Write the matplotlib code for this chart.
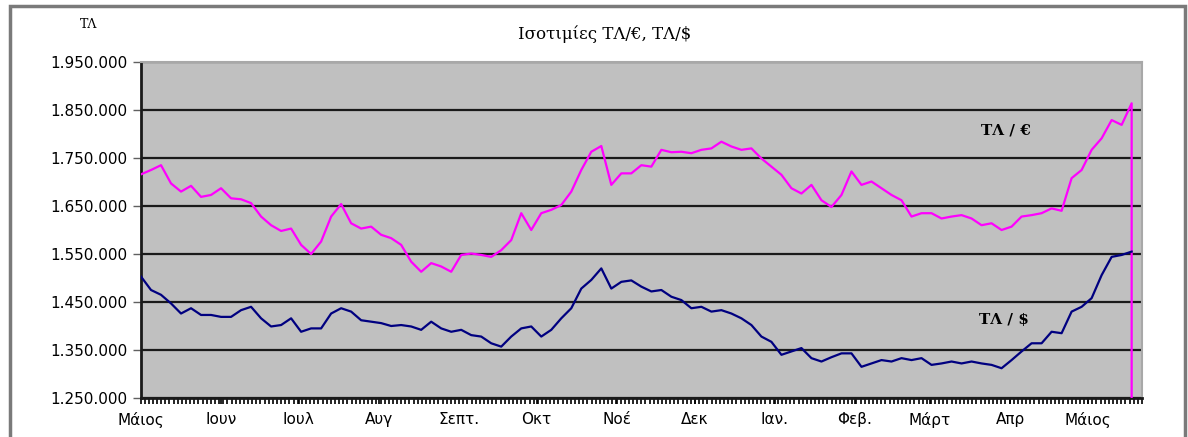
import numpy as np
import pandas as pd
import matplotlib
matplotlib.use('Agg')
import matplotlib.pyplot as plt
from matplotlib.ticker import FuncFormatter, MultipleLocator
from matplotlib.patches import Rectangle

# sampled dates (about every 4 days) from May 2003 to May 2004
dates = pd.date_range('2003-05-01', '2004-05-18', periods=100)

# TL per euro, thousands
eur = [1716, 1725, 1735, 1697, 1680, 1692, 1669, 1673, 1687, 1666,
       1664, 1656, 1628, 1610, 1598, 1603, 1569, 1550, 1576, 1628,
       1654, 1614, 1603, 1607, 1590, 1583, 1569, 1534, 1513, 1531,
       1524, 1513, 1548, 1551, 1548, 1544, 1558, 1579, 1635, 1600,
       1635, 1642, 1652, 1680, 1725, 1763, 1775, 1694, 1718, 1718,
       1735, 1732, 1767, 1762, 1763, 1760, 1767, 1770, 1784, 1774,
       1767, 1770, 1749, 1732, 1715, 1687, 1676, 1694, 1662, 1648,
       1673, 1722, 1694, 1701, 1687, 1673, 1662, 1628, 1635, 1635,
       1624, 1628, 1631, 1624, 1610, 1614, 1600, 1607, 1628, 1631,
       1635, 1645, 1640, 1708, 1725, 1767, 1791, 1829, 1819, 1864]

# TL per dollar, thousands
usd = [1503, 1475, 1465, 1447, 1426, 1437, 1423, 1423, 1419, 1419,
       1433, 1440, 1416, 1399, 1402, 1416, 1388, 1395, 1395, 1426,
       1437, 1430, 1412, 1409, 1406, 1400, 1402, 1399, 1392, 1409,
       1395, 1388, 1392, 1381, 1378, 1364, 1357, 1378, 1395, 1399,
       1378, 1392, 1416, 1437, 1478, 1496, 1520, 1478, 1492, 1495,
       1482, 1472, 1475, 1461, 1454, 1437, 1440, 1430, 1433, 1426,
       1416, 1402, 1378, 1367, 1340, 1347, 1354, 1333, 1326, 1335,
       1343, 1343, 1315, 1322, 1329, 1326, 1333, 1329, 1333, 1319,
       1322, 1326, 1322, 1326, 1322, 1319, 1312, 1329, 1347, 1364,
       1364, 1388, 1385, 1430, 1440, 1458, 1506, 1544, 1548, 1555]

month_labels = ['Μάιος', 'Ιουν', 'Ιουλ', 'Αυγ', 'Σεπτ.', 'Οκτ', 'Νοέ',
                'Δεκ', 'Ιαν.', 'Φεβ.', 'Μάρτ', 'Απρ', 'Μάιος']
yticks = [1250000, 1350000, 1450000, 1550000, 1650000, 1750000, 1850000, 1950000]

W, H = 1188, 437
fig = plt.figure(figsize=(W / 100, H / 100), dpi=100)
fig.patches.append(Rectangle((10 / W, -0.02), 1175 / W, 1.02 - 6 / H,
                             transform=fig.transFigure, fill=False,
                             edgecolor='#7a7a7a', lw=2.5))

ax = fig.add_axes([141 / W, 1 - 398 / H, (1142 - 141) / W, (398 - 62) / H])
ax.set_facecolor('#c0c0c0')

# last euro value missing in the source -> drops to zero
x_eur = list(dates) + [dates[-1]]
y_eur = [v * 1000 for v in eur] + [0]
ax.plot(x_eur, y_eur, color='#ff00ff', lw=1.6, zorder=3)
ax.plot(dates, [v * 1000 for v in usd], color='#000080', lw=1.6, zorder=3)

ax.set_ylim(1250000, 1950000)
ax.set_xlim(pd.Timestamp('2003-05-01'), pd.Timestamp('2004-05-22'))
ax.set_yticks(yticks)
ax.yaxis.set_major_formatter(FuncFormatter(lambda v, p: f'{v:,.0f}'.replace(',', '.')))
ax.yaxis.grid(True, color='#1a1a1a', lw=1.6)
ax.set_axisbelow(True)

months = pd.date_range('2003-05-01', '2004-05-01', freq='MS')
ax.set_xticks(months)
ax.set_xticklabels(month_labels)
ax.xaxis.set_minor_locator(MultipleLocator(1.6))

ax.tick_params(axis='y', direction='out', length=6, width=1, color='#606060',
               labelsize=11, pad=4)
ax.tick_params(axis='x', which='both', direction='out', length=4, width=1.2,
               color='black', labelsize=11, pad=6)

for s in ['left', 'bottom']:
    ax.spines[s].set_color('#1a1a1a')
    ax.spines[s].set_linewidth(2)
for s in ['right', 'top']:
    ax.spines[s].set_color('#a8a8a8')
    ax.spines[s].set_linewidth(1.5)

fig.text(605 / W, 1 - 34 / H, 'Ισοτιμίες ΤΛ/€, ΤΛ/$', ha='center', va='center',
         fontsize=12, family='DejaVu Serif')
fig.text(89 / W, 1 - 24 / H, 'ΤΛ', ha='center', va='center', fontsize=9,
         family='DejaVu Serif')

ax.text((1006 - 141) / (1142 - 141), (398 - 131) / (398 - 62), 'ΤΛ / €',
        transform=ax.transAxes, ha='center', va='center', fontsize=11,
        family='DejaVu Serif', weight='bold')
ax.text((1004 - 141) / (1142 - 141), (398 - 320) / (398 - 62), 'ΤΛ / $',
        transform=ax.transAxes, ha='center', va='center', fontsize=11,
        family='DejaVu Serif', weight='bold')

plt.savefig('out.png', dpi=100)
plt.close()
